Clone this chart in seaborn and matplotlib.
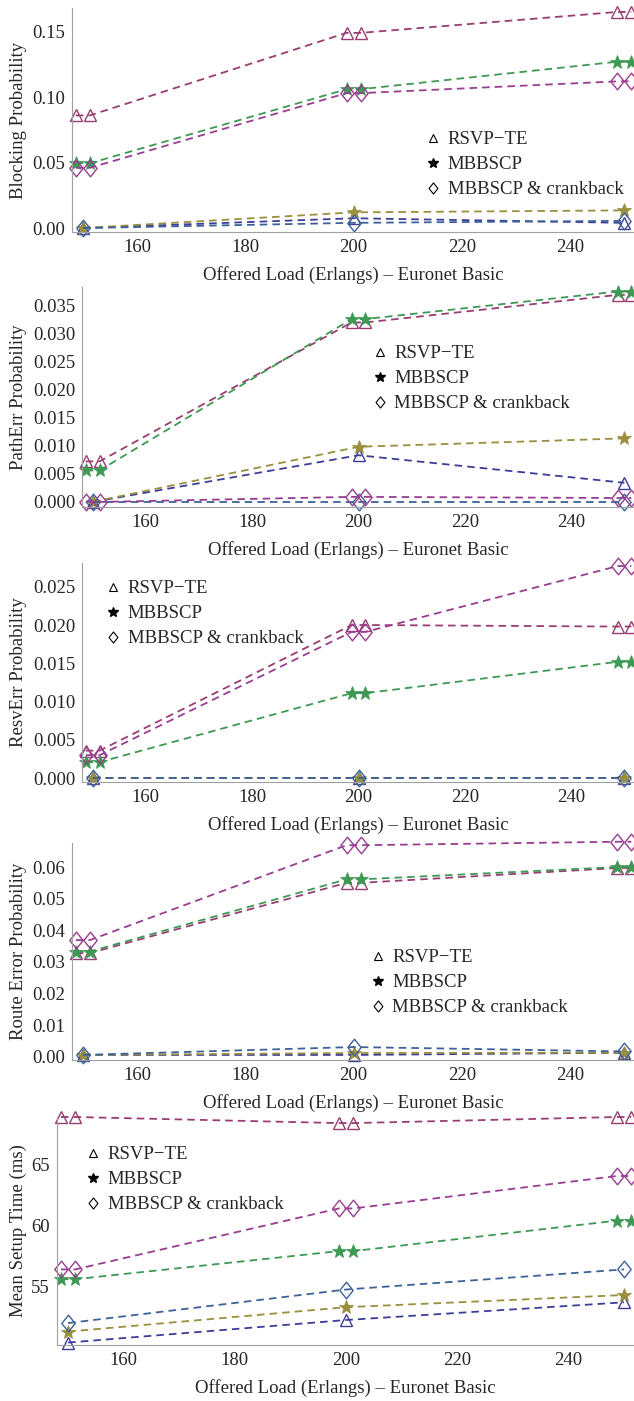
"""
plot.py - Euronet Basic signalling results, five stacked panels
"""

import numpy as np
import matplotlib
matplotlib.use('Agg')
import matplotlib.pyplot as plt
from matplotlib.lines import Line2D
from matplotlib.path import Path
import seaborn as sns

# x values: plain series at the load points, second set drawn as marker pairs
load = [150, 200, 250]
load_pair = [148.7, 151.3, 198.7, 201.3, 248.7, 251.3]

# Blocking probability
block_rsvp_a = [0.0, 0.0075, 0.004]
block_mbb_a = [0.0, 0.0120, 0.0135]
block_crank_a = [0.0, 0.0040, 0.0055]
block_rsvp_b = [0.086, 0.086, 0.149, 0.149, 0.165, 0.165]
block_mbb_b = [0.0495, 0.0495, 0.106, 0.106, 0.127, 0.127]
block_crank_b = [0.046, 0.046, 0.103, 0.103, 0.112, 0.112]

# PathErr probability
path_rsvp_a = [0.0, 0.0083, 0.0034]
path_mbb_a = [0.0, 0.0098, 0.0113]
path_crank_a = [0.0, 0.0, 0.0]
path_rsvp_b = [0.0072, 0.0072, 0.0319, 0.0319, 0.0368, 0.0368]
path_mbb_b = [0.0056, 0.0056, 0.0325, 0.0325, 0.0374, 0.0374]
path_crank_b = [0.0, 0.0, 0.0009, 0.0009, 0.0007, 0.0007]

# ResvErr probability
resv_rsvp_a = [0.0, 0.0, 0.0]
resv_mbb_a = [0.0, 0.0, 0.0]
resv_crank_a = [0.0, 0.0, 0.0]
resv_rsvp_b = [0.0036, 0.0036, 0.0200, 0.0200, 0.0198, 0.0198]
resv_mbb_b = [0.0021, 0.0021, 0.0111, 0.0111, 0.0152, 0.0152]
resv_crank_b = [0.0030, 0.0030, 0.0191, 0.0191, 0.0277, 0.0277]

# Route error probability
route_rsvp_a = [0.0006, 0.0006, 0.0013]
route_mbb_a = [0.0006, 0.0012, 0.0013]
route_crank_a = [0.0006, 0.0031, 0.0017]
route_rsvp_b = [0.0328, 0.0328, 0.0550, 0.0550, 0.0597, 0.0597]
route_mbb_b = [0.0333, 0.0333, 0.0561, 0.0561, 0.0600, 0.0600]
route_crank_b = [0.0369, 0.0369, 0.0669, 0.0669, 0.0680, 0.0680]

# Mean setup time (ms)
setup_rsvp_a = [50.4, 52.25, 53.7]
setup_mbb_a = [51.3, 53.3, 54.3]
setup_crank_a = [52.0, 54.75, 56.4]
setup_rsvp_b = [68.9, 68.9, 68.4, 68.4, 68.9, 68.9]
setup_mbb_b = [55.6, 55.6, 57.9, 57.9, 60.4, 60.4]
setup_crank_b = [56.4, 56.4, 61.4, 61.4, 64.06, 64.06]

legend_labels = ['RSVP\u2212TE', 'MBBSCP', 'MBBSCP & crankback']
xlabel = 'Offered Load (Erlangs) \u2013 Euronet Basic'

# Mathematica-like default palette
c_blue = (0.24, 0.24, 0.60)
c_maroon = (0.60, 0.24, 0.45)
c_olive = (0.60, 0.56, 0.24)
c_green = (0.24, 0.60, 0.33)
c_steel = (0.24, 0.38, 0.60)
c_magenta = (0.60, 0.24, 0.57)

sns.set_style("white")
plt.rcParams['font.family'] = ['Liberation Serif', 'DejaVu Serif']
FS = 13.5

W, H = 634, 1401
fig = plt.figure(figsize=(W / 100, H / 100), dpi=100)

# diamond a bit taller than wide, like the Mathematica marker
diamond = Path([(0, 1), (0.8, 0), (0, -1), (-0.8, 0), (0, 1)],
               [Path.MOVETO, Path.LINETO, Path.LINETO, Path.LINETO, Path.CLOSEPOLY])

# panel geometry in pixels: left, top, bottom; legend anchor in pixels
panels = [
    dict(left=72, top=8, bottom=232, ylim=(-0.003, 0.168),
         yticks=[0.0, 0.05, 0.10, 0.15], fmt='{:.2f}', ylabel='Blocking Probability',
         data=(block_rsvp_a, block_mbb_a, block_crank_a,
               block_rsvp_b, block_mbb_b, block_crank_b),
         leg=(425, 131)),
    dict(left=82, top=287, bottom=507, ylim=(-0.0009, 0.0382),
         yticks=[0.0, 0.005, 0.010, 0.015, 0.020, 0.025, 0.030, 0.035], fmt='{:.3f}',
         ylabel='PathErr Probability',
         data=(path_rsvp_a, path_mbb_a, path_crank_a,
               path_rsvp_b, path_mbb_b, path_crank_b),
         leg=(372, 345)),
    dict(left=82, top=563, bottom=782, ylim=(-0.0005, 0.0281),
         yticks=[0.0, 0.005, 0.010, 0.015, 0.020, 0.025], fmt='{:.3f}',
         ylabel='ResvErr Probability',
         data=(resv_rsvp_a, resv_mbb_a, resv_crank_a,
               resv_rsvp_b, resv_mbb_b, resv_crank_b),
         leg=(105, 580)),
    dict(left=72, top=843, bottom=1060, ylim=(-0.001, 0.0676),
         yticks=[0.0, 0.01, 0.02, 0.03, 0.04, 0.05, 0.06], fmt='{:.2f}',
         ylabel='Route Error Probability',
         data=(route_rsvp_a, route_mbb_a, route_crank_a,
               route_rsvp_b, route_mbb_b, route_crank_b),
         leg=(370, 949)),
    dict(left=57, top=1117, bottom=1345, ylim=(50.2, 68.9),
         yticks=[55, 60, 65], fmt='{:.0f}', ylabel='Mean Setup Time (ms)',
         data=(setup_rsvp_a, setup_mbb_a, setup_crank_a,
               setup_rsvp_b, setup_mbb_b, setup_crank_b),
         leg=(85, 1146)),
]

dash = (0, (4.2, 2.8))
mk_tri = dict(marker='^', markersize=8, markerfacecolor='none', markeredgewidth=1.0)
mk_star = dict(marker='*', markersize=10.5, markeredgewidth=0.5)
mk_dia = dict(marker=diamond, markersize=12, markerfacecolor='none', markeredgewidth=1.0)

for p in panels:
    ax = fig.add_axes([p['left'] / W, 1 - p['bottom'] / H,
                       1 - p['left'] / W, (p['bottom'] - p['top']) / H])
    ra, ma, ca, rb, mb, cb = p['data']
    series = [
        (load, ra, c_blue, mk_tri),
        (load_pair, rb, c_maroon, mk_tri),
        (load, ma, c_olive, mk_star),
        (load_pair, mb, c_green, mk_star),
        (load, ca, c_steel, mk_dia),
        (load_pair, cb, c_magenta, mk_dia),
    ]
    for xs, ys, col, mk in series:
        extra = {}
        if mk is mk_star:
            extra['markerfacecolor'] = col
        sns.lineplot(x=xs, y=ys, ax=ax, color=col, linestyle=dash, linewidth=1.3,
                     markeredgecolor=col, sort=False, errorbar=None,
                     clip_on=False, **mk, **extra)

    ax.set_xlim(148, 251.8)
    ax.set_ylim(*p['ylim'])
    ax.set_xticks([160, 180, 200, 220, 240])
    ax.set_xticks(np.arange(150, 252, 5), minor=True)
    ax.set_yticks(p['yticks'])
    ax.set_yticklabels([p['fmt'].format(v) for v in p['yticks']])
    ax.tick_params(axis='both', which='major', direction='in', length=4, width=0.6,
                   color='#aaaaaa', labelsize=FS, pad=5)
    ax.tick_params(axis='both', which='minor', direction='in', length=2, width=0.5,
                   color='#bbbbbb')
    ax.set_xlabel(xlabel, fontsize=FS, labelpad=7)
    ax.set_ylabel(p['ylabel'], fontsize=FS)
    width_px = W - p['left']
    ax.yaxis.set_label_coords((27 - p['left']) / width_px, 0.5)
    for side in ['top', 'right']:
        ax.spines[side].set_visible(False)
    for side in ['left', 'bottom']:
        ax.spines[side].set_color('#a0a0a0')
        ax.spines[side].set_linewidth(0.8)

    handles = [
        Line2D([], [], linestyle='none', marker='^', markersize=6,
               markerfacecolor='none', markeredgecolor='black', markeredgewidth=0.8),
        Line2D([], [], linestyle='none', marker='*', markersize=7,
               markerfacecolor='black', markeredgecolor='black'),
        Line2D([], [], linestyle='none', marker=diamond, markersize=8,
               markerfacecolor='none', markeredgecolor='black', markeredgewidth=0.8),
    ]
    lx, ly = p['leg']
    ax.legend(handles, legend_labels, loc='upper left', frameon=False,
              bbox_to_anchor=(lx / W, 1 - ly / H), bbox_transform=fig.transFigure,
              fontsize=FS, handlelength=0.9, handletextpad=0.3, labelspacing=0.42,
              borderpad=0, borderaxespad=0)

fig.savefig('out.png', dpi=100)
